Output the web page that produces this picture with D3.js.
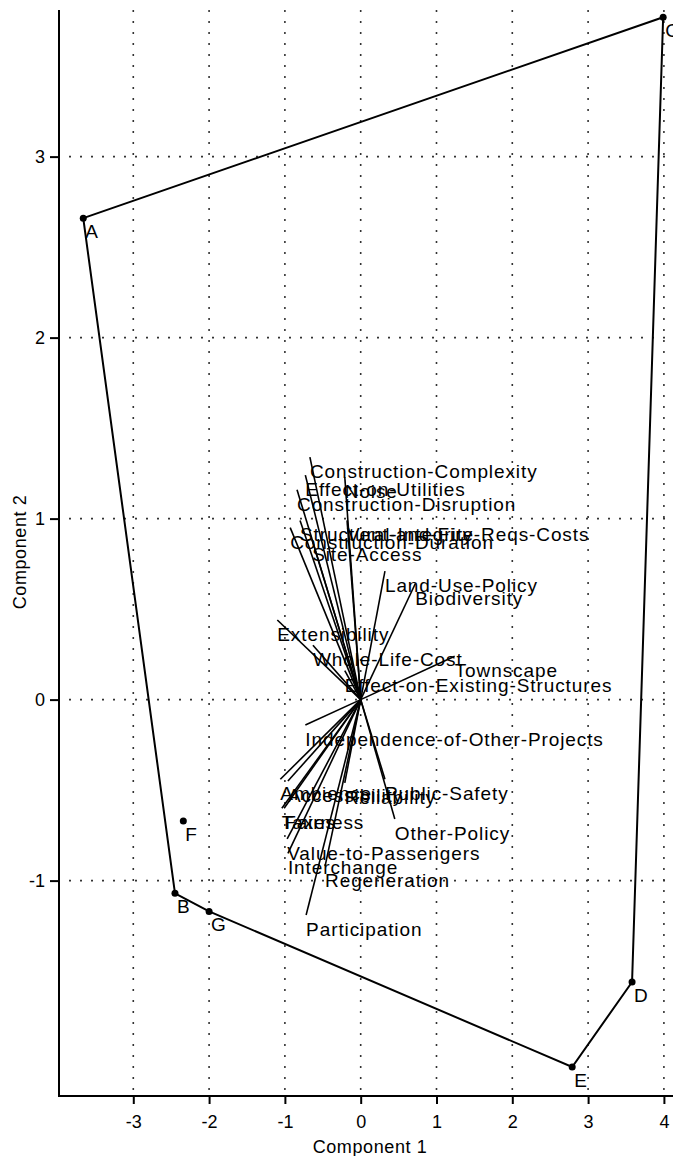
<!DOCTYPE html>
<html lang="en">

<head>
    <meta charset="UTF-8">
    <title>Biplot</title>
    <style>
        body {
            margin: 0;
            background: #fff;
        }

        svg text {
            font-family: "Liberation Sans", Arial, sans-serif;
            fill: #000;
        }

        .grid line {
            stroke: #333;
            stroke-width: 1.6;
            stroke-dasharray: 2 9;
        }
    </style>
</head>

<body>
    <svg id="chart"></svg>
    <script src="https://cdnjs.cloudflare.com/ajax/libs/d3/7.9.0/d3.min.js"></script>
    <script>
        // scores of the observations
        const obsNames = ["A", "B", "C", "D", "E", "F", "G"];
        const obsX = [-3.66, -2.45, 3.99, 3.58, 2.79, -2.34, -2.00];
        const obsY = [2.66, -1.07, 3.77, -1.56, -2.03, -0.67, -1.17];

        // hull order
        const hullOrder = ["A", "C", "D", "E", "G", "B"];

        // variable loadings
        const varNames = [
            "Construction-Complexity", "Effect-on-Utilities", "Construction-Disruption", "Noise",
            "Vent-and-Fire-Reqs-Costs", "Structural-Integrity", "Construction-Duration", "Site-Access",
            "Land-Use-Policy", "Biodiversity", "Extensibility", "Whole-Life-Cost", "Townscape",
            "Effect-on-Existing-Structures", "Independence-of-Other-Projects", "Ambience",
            "Accessibility", "Reliability", "Public-Safety", "Fairness", "Taxes", "Other-Policy",
            "Value-to-Passengers", "Interchange", "Regeneration", "Participation"
        ];
        const varX = [-0.67, -0.73, -0.84, -0.21, -0.18, -0.80, -0.93, -0.64, 0.32, 0.72, -1.10, -0.63, 1.24,
            -0.21, -0.73, -1.06, -0.96, -0.21, 0.32, -1.01, -1.04, 0.45, -0.97, -0.96, -0.47, -0.72];
        const varY = [1.34, 1.24, 1.16, 1.23, 0.99, 0.99, 0.95, 0.88, 0.71, 0.64, 0.44, 0.30, 0.24,
            0.16, -0.14, -0.44, -0.45, -0.46, -0.44, -0.60, -0.60, -0.66, -0.77, -0.85, -0.92, -1.19];

        const xTicks = [-3, -2, -1, 0, 1, 2, 3, 4];
        const yTicks = [-1, 0, 1, 2, 3];

        const w = 673;
        const h = 1156;
        const m = { left: 59, right: 673, top: 10, bottom: 1096 };

        const svg = d3.select("#chart")
            .attr("width", w)
            .attr("height", h);

        const x = d3.scaleLinear().domain([-3.98, 4.12]).range([m.left, m.right]);
        const y = d3.scaleLinear().domain([-2.19, 3.81]).range([m.bottom, m.top]);

        // dotted grid
        const grid = svg.append("g").attr("class", "grid");
        grid.selectAll(".vx")
            .data(xTicks)
            .enter()
            .append("line")
            .attr("x1", d => x(d)).attr("x2", d => x(d))
            .attr("y1", m.top).attr("y2", m.bottom);
        grid.selectAll(".hy")
            .data(yTicks)
            .enter()
            .append("line")
            .attr("x1", m.left + 10).attr("x2", m.right)
            .attr("y1", d => y(d)).attr("y2", d => y(d));

        // axes
        const xAxis = d3.axisBottom(x).tickValues(xTicks).tickSize(8).tickPadding(11)
            .tickFormat(d3.format("d"));
        const yAxis = d3.axisLeft(y).tickValues(yTicks).tickSize(9).tickPadding(5)
            .tickFormat(d3.format("d"));

        const gx = svg.append("g").attr("transform", `translate(0,${m.bottom})`).call(xAxis);
        const gy = svg.append("g").attr("transform", `translate(${m.left},0)`).call(yAxis);
        [gx, gy].forEach(g => {
            g.select(".domain").remove();
            g.selectAll(".tick line").attr("stroke", "#000").attr("stroke-width", 2);
            g.selectAll(".tick text")
                .style("font-family", '"Liberation Sans", Arial, sans-serif')
                .style("font-size", "18px")
                .attr("fill", "#000");
        });
        gx.selectAll(".tick text").text(d => d < 0 ? "-" + Math.abs(d) : d);
        gy.selectAll(".tick text").text(d => d < 0 ? "-" + Math.abs(d) : d);

        // axis lines
        svg.append("line")
            .attr("x1", m.left).attr("x2", m.left)
            .attr("y1", m.top).attr("y2", m.bottom + 1)
            .attr("stroke", "#000").attr("stroke-width", 2);
        svg.append("line")
            .attr("x1", m.left).attr("x2", m.right)
            .attr("y1", m.bottom).attr("y2", m.bottom)
            .attr("stroke", "#000").attr("stroke-width", 2);

        // axis titles
        svg.append("text")
            .attr("x", 370).attr("y", 1153)
            .attr("text-anchor", "middle")
            .style("font-size", "18px")
            .style("letter-spacing", "0.6px")
            .text("Component 1");
        svg.append("text")
            .attr("transform", "translate(26,552) rotate(-90)")
            .attr("text-anchor", "middle")
            .style("font-size", "18px")
            .style("letter-spacing", "0.6px")
            .text("Component 2");

        // convex hull
        const hull = hullOrder.map(n => {
            const i = obsNames.indexOf(n);
            return [obsX[i], obsY[i]];
        });
        svg.append("path")
            .attr("d", d3.line().x(d => x(d[0])).y(d => y(d[1])).curve(d3.curveLinearClosed)(hull))
            .attr("fill", "none")
            .attr("stroke", "#000")
            .attr("stroke-width", 2);

        // loading vectors
        svg.selectAll(".vec")
            .data(varNames)
            .enter()
            .append("line")
            .attr("class", "vec")
            .attr("x1", x(0)).attr("y1", y(0))
            .attr("x2", (d, i) => x(varX[i]))
            .attr("y2", (d, i) => y(varY[i]))
            .attr("stroke", "#000")
            .attr("stroke-width", 1.6);

        svg.selectAll(".vlab")
            .data(varNames)
            .enter()
            .append("text")
            .attr("class", "vlab")
            .attr("x", (d, i) => x(varX[i]))
            .attr("y", (d, i) => y(varY[i]) + 21)
            .style("font-size", "19px")
            .style("letter-spacing", "0.9px")
            .text(d => d);

        // observation points
        svg.selectAll(".pt")
            .data(obsNames)
            .enter()
            .append("circle")
            .attr("cx", (d, i) => x(obsX[i]))
            .attr("cy", (d, i) => y(obsY[i]))
            .attr("r", 3.5)
            .attr("fill", "#000");

        svg.selectAll(".plab")
            .data(obsNames)
            .enter()
            .append("text")
            .attr("x", (d, i) => x(obsX[i]) + 2)
            .attr("y", (d, i) => y(obsY[i]) + 20)
            .style("font-size", "19px")
            .text(d => d);
    </script>
</body>

</html>
